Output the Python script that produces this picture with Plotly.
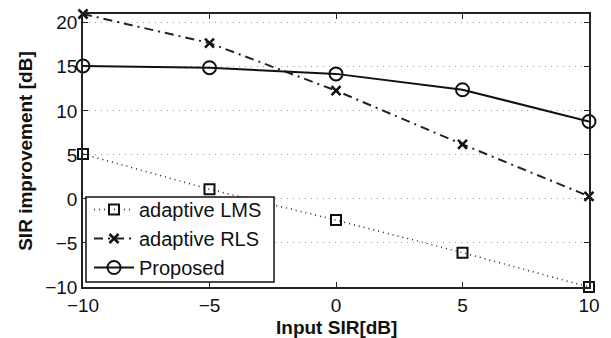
import plotly.graph_objects as go

x_sir = [-10, -5, 0, 5, 10]
lms = [5.1, 1.1, -2.4, -6.1, -10.0]
rls = [21.0, 17.7, 12.3, 6.2, 0.3]
proposed = [15.1, 14.9, 14.2, 12.4, 8.8]

y_ticks = [-10, -5, 0, 5, 10, 15, 20]
x_ticks = [-10, -5, 0, 5, 10]

x_title = "Input SIR[dB]"
y_title = "SIR improvement [dB]"

fig = go.Figure()
fig.add_trace(go.Scatter(x=x_sir, y=lms, name="adaptive LMS", mode="lines+markers",
                         line=dict(color="#222", width=1.5, dash="1px,4px"),
                         marker=dict(symbol="square-open", size=10, color="#111", line=dict(width=2)),
                         cliponaxis=False))
fig.add_trace(go.Scatter(x=x_sir, y=rls, name="adaptive RLS", mode="lines+markers",
                         line=dict(color="#222", width=2, dash="9px,5px,2px,5px"),
                         marker=dict(symbol="x-thin", size=9, color="#111", line=dict(width=2.5, color="#111")),
                         cliponaxis=False))
fig.add_trace(go.Scatter(x=x_sir, y=proposed, name="Proposed", mode="lines+markers",
                         line=dict(color="#111", width=2),
                         marker=dict(symbol="circle-open", size=13, color="#111", line=dict(width=2)),
                         cliponaxis=False))

fig.update_layout(
    width=611, height=338,
    margin=dict(l=83, r=22, t=14, b=51),
    paper_bgcolor="white", plot_bgcolor="white",
    font=dict(family="Liberation Sans, Arial, sans-serif", size=19, color="#111"),
    showlegend=True,
    legend=dict(x=6 / 506, y=0.0, xanchor="left", yanchor="bottom",
                bgcolor="rgba(0,0,0,0)", borderwidth=0,
                font=dict(size=20), tracegroupgap=0, itemwidth=40),
    xaxis=dict(range=[-10, 10], tickvals=x_ticks, showgrid=False, zeroline=False,
               showline=True, linecolor="#222", linewidth=1.5, mirror="ticks",
               ticks="inside", ticklen=5, tickcolor="#222", automargin=False,
               tickfont=dict(size=19)),
    yaxis=dict(range=[-10, 21], tickvals=y_ticks, showgrid=True, gridcolor="#999",
               griddash="1px,5px", gridwidth=1, zeroline=False,
               showline=True, linecolor="#222", linewidth=1.5, mirror="ticks",
               ticks="inside", ticklen=5, tickcolor="#222", automargin=False,
               tickfont=dict(size=19)),
    shapes=[
        dict(type="rect", xref="paper", yref="paper",
             x0=3 / 506, x1=191 / 506, y0=5 / 273, y1=90 / 273,
             fillcolor="white", line=dict(color="#111", width=1.5), layer="above"),
    ],
    annotations=[
        dict(text="<b>" + x_title + "</b>", xref="paper", yref="paper", x=0.5, y=-0.147,
             xanchor="center", yanchor="middle", showarrow=False, font=dict(size=19)),
        dict(text="<b>" + y_title + "</b>", xref="paper", yref="paper", x=-0.114, y=0.5,
             xanchor="center", yanchor="middle", showarrow=False, textangle=-90,
             font=dict(size=19)),
    ],
)

fig.write_html("out.html", config={"displayModeBar": False},
               post_script="document.body.style.margin='0';")
